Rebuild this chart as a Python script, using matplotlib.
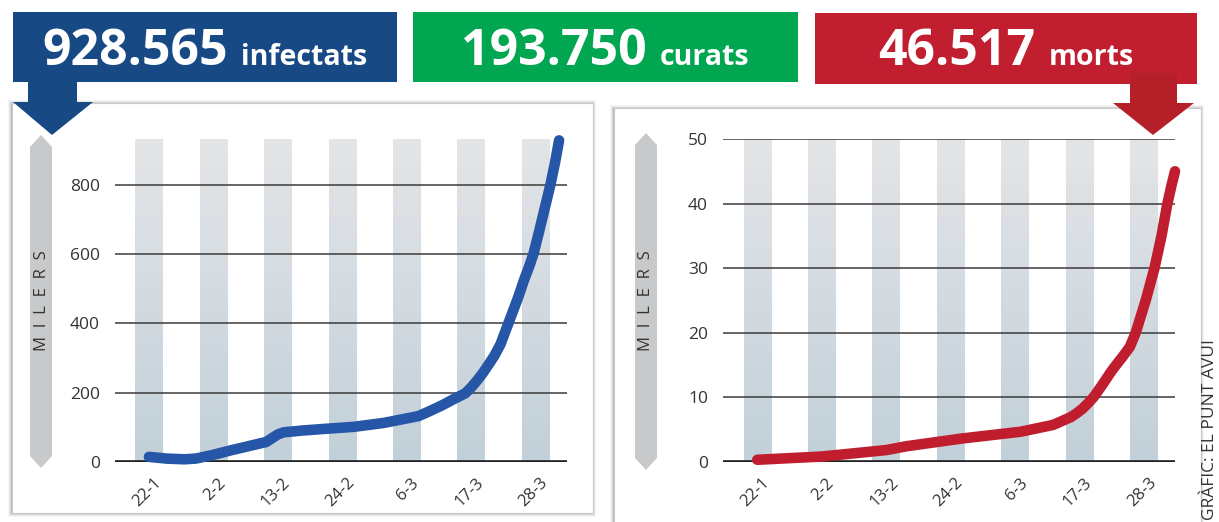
import numpy as np
import matplotlib
matplotlib.use("Agg")
import matplotlib.pyplot as plt
from matplotlib.patches import Rectangle, Polygon
from matplotlib.colors import LinearSegmentedColormap
from matplotlib.transforms import ScaledTranslation, blended_transform_factory
import pandas as pd

plt.rcParams['font.family'] = ['Open Sans', 'DejaVu Sans']

# ---------------- data ----------------
start_date = pd.Timestamp('2020-01-22')
tick_dates = ['2020-01-22', '2020-02-02', '2020-02-13', '2020-02-24',
              '2020-03-06', '2020-03-17', '2020-03-28']
tick_labels = ['22-1', '2-2', '13-2', '24-2', '6-3', '17-3', '28-3']

# infected (thousands) – days since 22-1
inf_days = [0, 3, 6, 8, 11, 14, 17, 20, 21, 22, 23, 26, 30, 35, 40, 46, 48, 50, 52, 54,
            55, 56, 57, 58, 59, 60, 61, 62, 63, 64, 65, 65.6, 66.5, 67.5, 68.5, 69.3, 70]
inf_vals = [14, 9, 7, 9, 20, 33, 45, 57, 68, 79, 85, 90, 95, 101, 112, 132, 147, 163, 181, 198,
            215, 235, 257, 282, 308, 340, 385, 430, 475, 525, 570, 600, 660, 730, 800, 865, 930]

# deaths (thousands)
dead_days = [0, 11, 22, 25.5, 35, 45, 50.5, 52, 53.5, 54.5, 55.5, 56.5, 57.4, 58.5, 59.4,
             60.2, 61, 62.3, 63.6, 64.6, 66.3, 67.8, 69, 70, 70.7, 71.3]
dead_vals = [0.3, 0.8, 1.8, 2.4, 3.6, 4.65, 5.7, 6.3, 6.9, 7.5, 8.2, 9.1, 10.0, 11.4, 12.6,
             13.7, 14.7, 16.2, 17.8, 20.0, 25.0, 30.0, 35.0, 40.0, 42.8, 45.0]

inf_ticks = [0, 200, 400, 600, 800]
dead_ticks = [0, 10, 20, 30, 40, 50]
inf_top = 934
dead_top = 50

headers = [('928.565', 'infectats'), ('193.750', 'curats'), ('46.517', 'morts')]

# ---------------- figure ----------------
W, H = 1219, 522
fig = plt.figure(figsize=(W / 100, H / 100), dpi=100)
fig.patch.set_facecolor('white')


def fx(px):
    return px / W


def fy(py):
    return 1 - py / H


def frect(x0, y0, x1, y1, **kw):
    r = Rectangle((fx(x0), fy(y1)), fx(x1) - fx(x0), fy(y0) - fy(y1),
                  transform=fig.transFigure, **kw)
    fig.add_artist(r)
    return r


def fpoly(pts, **kw):
    p = Polygon([(fx(a), fy(b)) for a, b in pts], closed=True,
                transform=fig.transFigure, **kw)
    fig.add_artist(p)
    return p


# panels with shadow
for (x0, y0, x1, y1) in [(12, 103, 593, 513), (614, 108, 1201, 540)]:
    for k, a in [(4, 0.06), (3, 0.08), (2, 0.12), (1, 0.18)]:
        frect(x0 - k, y0 - k + 1, x1 + k - 1, y1 + k, facecolor='#555555',
              edgecolor='none', alpha=a, zorder=-12)
    frect(x0, y0, x1, y1, facecolor='white', edgecolor='#c8c8c8', lw=0.8, zorder=-10)

# header boxes
box_specs = [((13, 12, 397, 82), '#174a84'),
             ((413, 12, 798, 82), '#00a650'),
             ((815, 13, 1197, 84), '#c11f30')]
for (x0, y0, x1, y1), col in box_specs:
    frect(x0, y0, x1, y1, facecolor=col, edgecolor='none', zorder=5)

# arrows
fpoly([(28, 82), (77, 82), (77, 102), (93, 102), (52, 135), (13, 102), (28, 102)],
      facecolor='#174a84', edgecolor='none', zorder=6)
fpoly([(1130, 73), (1177, 73), (1177, 103), (1194, 103), (1153, 135), (1113, 103), (1130, 103)],
      facecolor='#b51f28', edgecolor='none', zorder=6)

# header texts
renderer = fig.canvas.get_renderer()
for ((x0, y0, x1, y1), col), (num, word) in zip(box_specs, headers):
    t1 = fig.text(0, fy(65), num, fontsize=36, fontweight='bold', color='white',
                  ha='left', va='baseline', zorder=7)
    t2 = fig.text(0, fy(65), word, fontsize=20.5, fontweight='bold', color='white',
                  ha='left', va='baseline', zorder=7)
    w1 = t1.get_window_extent(renderer).width
    w2 = t2.get_window_extent(renderer).width
    gap = 13
    cx = (x0 + x1) / 2
    s = cx - (w1 + gap + w2) / 2
    t1.set_x(fx(s))
    t2.set_x(fx(s + w1 + gap))

# MILERS tags
for cx, top, bot in [(41, 135, 468), (646, 133, 470)]:
    hw = 11
    fpoly([(cx, top), (cx + hw, top + 12), (cx + hw, bot - 12), (cx, bot),
           (cx - hw, bot - 12), (cx - hw, top + 12)],
          facecolor='#c8c9cb', edgecolor='none', zorder=2)
    fig.text(fx(cx + 0.5), fy(301), 'M  I  L  E  R  S', rotation=90, fontsize=12,
             color='#333333', ha='center', va='center', zorder=3)

# credit
fig.text(fx(1210.5), fy(520), 'GRÀFIC: EL PUNT AVUI', rotation=90, fontsize=12.5,
         color='#333333', ha='center', va='bottom')

# ---------------- axes ----------------
bar_days = [(pd.Timestamp(d) - start_date).days for d in tick_dates]
cmap = LinearSegmentedColormap.from_list('barg', ['#e4e5e7', '#c2d0d9'])
grad = np.linspace(0, 1, 256).reshape(-1, 1)


def make_axes(left_px, xs, ys, top, ticks, color):
    ax = fig.add_axes([fx(left_px), fy(461.7), 451.7 / W, 322.7 / H])
    ax.set_facecolor('none')
    bars = ax.bar(bar_days, [top] * len(bar_days), width=4.7, color='none',
                  edgecolor='none', zorder=0)
    for b in bars:
        x0 = b.get_x()
        im = ax.imshow(grad, cmap=cmap, extent=[x0, x0 + b.get_width(), 0, b.get_height()],
                       aspect='auto', origin='upper', zorder=0, interpolation='bilinear')
        im.set_clip_path(b)
    for t in ticks[1:]:
        ax.axhline(t, color='#3a3a3a', lw=1.1, zorder=1)
    ax.axhline(0, color='#1e1e1e', lw=2.6, zorder=1)
    ax.plot(xs, ys, color=color, lw=7.6, solid_capstyle='round',
            solid_joinstyle='round', clip_on=False, zorder=3)
    ax.set_xlim(-5.8, 71.3)
    ax.set_ylim(0, top)
    ax.set_yticks(ticks)
    ax.set_yticklabels([str(t) for t in ticks])
    ax.tick_params(axis='y', length=0, pad=11, labelsize=12.5, labelcolor='#333333')
    ax.set_xticks([])
    for s in ax.spines.values():
        s.set_visible(False)
    trans = blended_transform_factory(ax.transData, ax.transAxes) + \
        ScaledTranslation(10 / 100, -19 / 100, fig.dpi_scale_trans)
    for d, lab in zip(bar_days, tick_labels):
        ax.text(d, 0, lab, transform=trans, rotation=45, ha='right', va='center',
                rotation_mode='anchor', fontsize=12, color='#333333')
    return ax


make_axes(115, inf_days, inf_vals, inf_top, inf_ticks, '#2656a8')
make_axes(723.3, dead_days, dead_vals, dead_top, dead_ticks, '#c01e2f')

fig.savefig('out.png', dpi=100)
